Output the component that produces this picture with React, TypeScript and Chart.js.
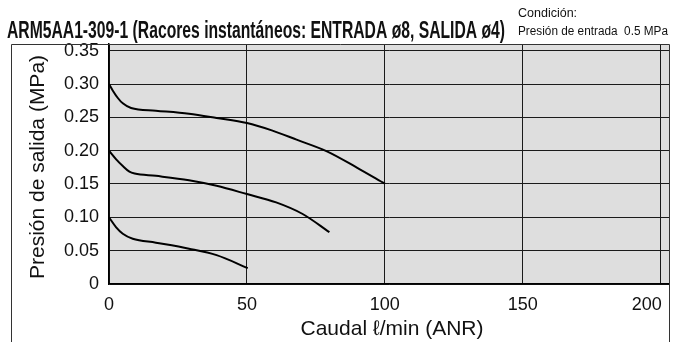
import React, { useEffect, useRef } from "react";
import { Chart, registerables } from "chart.js";

Chart.register(...registerables);

const TITLE = "ARM5AA1-309-1 (Racores instantáneos: ENTRADA ø8, SALIDA ø4)";
const COND_1 = "Condición:";
const COND_2 = "Presión de entrada  0.5 MPa";
const X_TITLE = "Caudal ℓ/min (ANR)";
const Y_TITLE = "Presión de salida (MPa)";

const xTicks = [0, 50, 100, 150, 200];
const yTicks = [0, 0.05, 0.1, 0.15, 0.2, 0.25, 0.3, 0.35];

// Set pressure 0.3 MPa
const flow1 = [0, 1.4, 3.2, 5, 8, 17, 29, 39, 50, 59, 68, 79, 90, 100];
const press1 = [0.3, 0.29, 0.279, 0.271, 0.264, 0.26, 0.2553, 0.249, 0.2414, 0.2304, 0.2165, 0.199, 0.1743, 0.1504];

// Set pressure 0.2 MPa
const flow2 = [0, 2.6, 5, 7.4, 9.3, 17, 29, 39, 50, 60.6, 70.2, 79.9];
const press2 = [0.2, 0.187, 0.177, 0.1685, 0.1657, 0.1622, 0.1557, 0.1473, 0.1349, 0.1224, 0.105, 0.0777];

// Set pressure 0.1 MPa
const flow3 = [0, 2.6, 5, 8.6, 17, 29, 39, 50.3];
const press3 = [0.1, 0.085, 0.0754, 0.0679, 0.062, 0.053, 0.0433, 0.0239];

const toPts = (xs: number[], ys: number[]) => xs.map((x, i) => ({ x, y: ys[i] }));

const LAST_X = xTicks[xTicks.length - 1];
const TICK_FONT = "18px 'Liberation Sans', Arial, sans-serif";

export default function App() {
  const ref = useRef<HTMLCanvasElement | null>(null);

  useEffect(() => {
    if (!ref.current) return;
    const decor = {
      id: "decor",
      beforeDraw(chart: any) {
        const { ctx, chartArea: a } = chart;
        ctx.save();
        ctx.fillStyle = "#ffffff";
        ctx.fillRect(0, 0, chart.width, chart.height);
        ctx.fillStyle = "#dedede";
        ctx.fillRect(a.left, a.top, a.right - a.left, a.bottom - a.top);
        ctx.restore();
      },
      afterDraw(chart: any) {
        const { ctx } = chart;
        ctx.save();
        // outer frame
        ctx.strokeStyle = "#333";
        ctx.lineWidth = 1;
        ctx.beginPath();
        ctx.moveTo(11.5, 342);
        ctx.lineTo(11.5, 44.5);
        ctx.lineTo(669.5, 44.5);
        ctx.lineTo(669.5, 342);
        ctx.stroke();

        ctx.fillStyle = "#111";
        ctx.textBaseline = "alphabetic";
        ctx.textAlign = "left";
        ctx.font = "bold 23px 'Liberation Sans Narrow', 'Liberation Sans', Arial, sans-serif";
        ctx.fillText(TITLE, 7, 38, 498);
        ctx.font = "12.5px 'Liberation Sans Narrow', 'Liberation Sans', Arial, sans-serif";
        ctx.fillText(COND_1, 518, 17, 60);
        ctx.fillText(COND_2, 518, 35, 150);

        // last x tick label, right-aligned against its grid line
        const sx = chart.scales.x;
        ctx.font = TICK_FONT;
        ctx.textAlign = "right";
        ctx.textBaseline = "middle";
        ctx.fillText(String(LAST_X), sx.getPixelForValue(LAST_X) + 1, 305);

        ctx.textBaseline = "alphabetic";
        ctx.font = "21px 'Liberation Sans', Arial, sans-serif";
        ctx.textAlign = "center";
        ctx.fillText(X_TITLE, 392, 335);
        ctx.translate(44, 167);
        ctx.rotate(-Math.PI / 2);
        ctx.fillText(Y_TITLE, 0, 0);
        ctx.restore();
      },
    };

    const ds = (data: any) => ({
      data,
      borderColor: "#000",
      borderWidth: 2,
      pointRadius: 0,
      fill: false,
      cubicInterpolationMode: "monotone" as const,
    });

    const chart = new Chart(ref.current, {
      type: "line",
      data: {
        datasets: [ds(toPts(flow1, press1)), ds(toPts(flow2, press2)), ds(toPts(flow3, press3))],
      },
      options: {
        animation: false,
        responsive: false,
        parsing: false as any,
        layout: { padding: { left: 0, top: 44, right: 16, bottom: 0 } },
        plugins: { legend: { display: false }, tooltip: { enabled: false }, title: { display: false } },
        scales: {
          x: {
            type: "linear",
            min: 0,
            max: 203,
            afterBuildTicks: (s: any) => {
              s.ticks = xTicks.map((v) => ({ value: v }));
            },
            afterFit: (s: any) => {
              s.height = 58;
            },
            ticks: {
              font: { family: "'Liberation Sans', Arial, sans-serif", size: 18 },
              color: "#111",
              padding: 10,
              maxRotation: 0,
              autoSkip: false,
              callback: (v: any) => (v === LAST_X ? "" : String(v)),
            },
            grid: { color: "#1a1a1a", lineWidth: 1, drawTicks: false },
            border: { color: "#000", width: 1.5 },
          },
          y: {
            type: "linear",
            min: 0,
            max: 0.36,
            afterBuildTicks: (s: any) => {
              s.ticks = yTicks.map((v) => ({ value: v }));
            },
            afterFit: (s: any) => {
              s.width = 109;
            },
            ticks: {
              font: { family: "'Liberation Sans', Arial, sans-serif", size: 18 },
              color: "#111",
              padding: 10,
              autoSkip: false,
              callback: (v: any) => (v === 0 ? "0" : Number(v).toFixed(2)),
            },
            grid: { color: "#1a1a1a", lineWidth: 1, drawTicks: false },
            border: { color: "#000", width: 1.5 },
          },
        },
      },
      plugins: [decor],
    });
    return () => chart.destroy();
  }, []);

  return (
    <div style={{ position: "fixed", left: 0, top: 0, width: 685, height: 342, background: "#fff" }}>
      <canvas ref={ref} width={685} height={342} style={{ width: 685, height: 342, display: "block" }} />
    </div>
  );
}
